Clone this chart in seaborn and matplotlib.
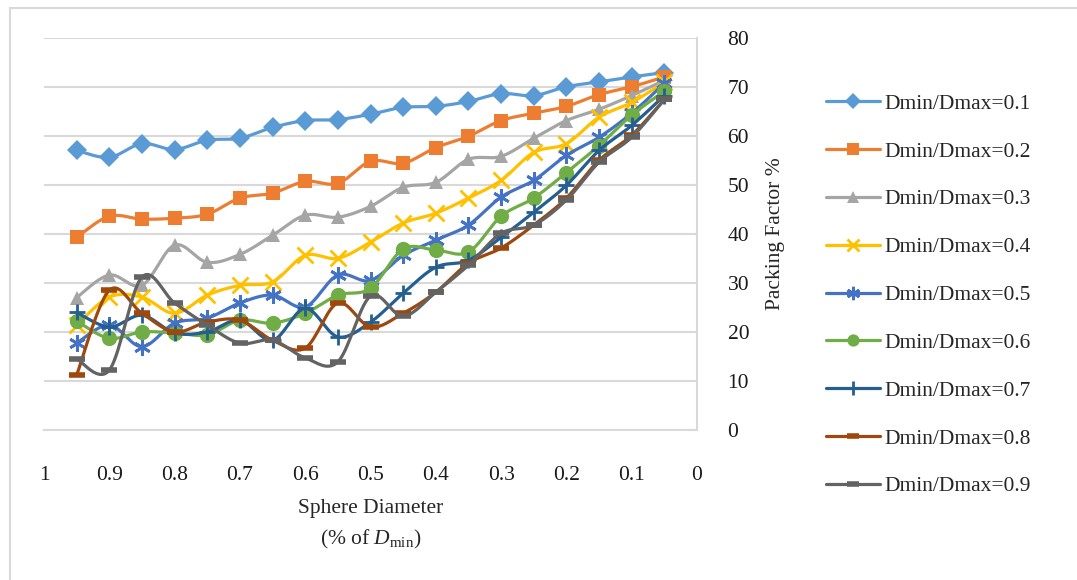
import numpy as np
import pandas as pd
import seaborn as sns
import matplotlib.pyplot as plt
from matplotlib.lines import Line2D
from matplotlib.patches import Rectangle

# średnica kuli (oś x, odwrócona)
srednica = [0.95, 0.9, 0.85, 0.8, 0.75, 0.7, 0.65, 0.6, 0.55, 0.5,
            0.45, 0.4, 0.35, 0.3, 0.25, 0.2, 0.15, 0.1, 0.05]

pf_01 = [57.0, 55.6, 58.4, 57.2, 59.1, 59.5, 61.7, 63.1, 63.3, 64.4,
         65.8, 66.0, 67.0, 68.6, 68.2, 70.0, 71.0, 72.0, 72.9]
pf_02 = [39.3, 43.6, 43.0, 43.2, 44.0, 47.3, 48.3, 50.7, 50.3, 54.8,
         54.4, 57.6, 59.9, 63.1, 64.6, 66.0, 68.4, 70.0, 72.0]
pf_03 = [27.0, 31.6, 29.5, 37.7, 34.2, 35.8, 39.7, 43.8, 43.4, 45.6,
         49.5, 50.5, 55.2, 55.8, 59.5, 63.1, 65.4, 68.2, 71.3]
pf_04 = [21.4, 27.1, 27.1, 23.8, 27.5, 29.5, 30.2, 35.6, 35.0, 38.3,
         42.2, 44.2, 47.3, 50.9, 56.6, 58.4, 63.8, 66.8, 70.9]
pf_05 = [17.7, 21.4, 17.0, 21.8, 22.8, 25.9, 27.5, 25.1, 31.6, 30.5,
         35.6, 38.7, 41.8, 47.5, 50.9, 56.0, 59.7, 64.6, 70.7]
pf_06 = [22.2, 18.7, 20.0, 19.8, 19.4, 22.4, 21.8, 23.8, 27.5, 28.9,
         36.9, 36.7, 36.3, 43.6, 47.3, 52.5, 58.0, 64.2, 69.1]
pf_07 = [24.0, 21.0, 23.4, 19.8, 20.0, 22.4, 18.3, 24.8, 19.0, 22.0,
         27.9, 33.2, 34.6, 39.3, 44.4, 49.9, 57.0, 62.1, 68.2]
pf_08 = [11.2, 28.5, 23.8, 20.0, 22.0, 22.4, 18.3, 16.7, 25.9, 21.0,
         23.8, 28.1, 34.0, 37.1, 41.8, 47.3, 55.0, 60.1, 67.4]
pf_09 = [14.5, 12.2, 31.2, 25.9, 21.4, 17.7, 18.3, 14.7, 13.9, 27.3,
         23.2, 28.1, 33.6, 40.1, 41.8, 46.9, 54.6, 59.7, 67.4]

serie = [pf_01, pf_02, pf_03, pf_04, pf_05, pf_06, pf_07, pf_08, pf_09]
etykiety = [f'Dmin/Dmax=0.{i}' for i in range(1, 10)]
kolory = ['#5B9BD5', '#ED7D31', '#A5A5A5', '#FFC000', '#4472C4',
          '#70AD47', '#255E91', '#9E480E', '#636363']
markery = ['D', 's', '^', 'x', (6, 2, 0), 'o', '+', '_', '_']
rozmiary = [10, 10, 10, 11, 12, 11, 12, 11, 11]


def wygladz(x, y, n=20):
    # krzywa gładka jak w Excelu (Bezier / Catmull-Rom)
    x = np.asarray(x, float)
    y = np.asarray(y, float)
    P = np.column_stack([x, y])
    P = np.vstack([P[0], P, P[-1]])
    out = []
    t = np.linspace(0, 1, n)[:, None]
    for i in range(1, len(P) - 2):
        p0, p1, p2, p3 = P[i - 1], P[i], P[i + 1], P[i + 2]
        c1 = p1 + (p2 - p0) / 6
        c2 = p2 - (p3 - p1) / 6
        seg = ((1 - t) ** 3) * p1 + 3 * ((1 - t) ** 2) * t * c1 + 3 * (1 - t) * t ** 2 * c2 + t ** 3 * p2
        out.append(seg if i == 1 else seg[1:])
    out = np.vstack(out)
    return out[:, 0], out[:, 1]


sns.set_style('white')
plt.rcParams['font.family'] = ['Liberation Serif', 'DejaVu Serif']
plt.rcParams['mathtext.fontset'] = 'custom'
plt.rcParams['mathtext.rm'] = 'Liberation Serif'
plt.rcParams['mathtext.it'] = 'Liberation Serif:italic'

fig = plt.figure(figsize=(10.77, 5.8), dpi=100)
ax = fig.add_axes([44 / 1077, 1 - 430 / 580, (697 - 44) / 1077, (430 - 37.7) / 580])

uchwyty = []
for y, lab, kol, mk, ms in zip(serie, etykiety, kolory, markery, rozmiary):
    xs, ys = wygladz(srednica, y)
    dense = pd.DataFrame({'x': xs, 'y': ys})
    sns.lineplot(data=dense, x='x', y='y', color=kol, linewidth=2.3, sort=False,
                 estimator=None, ax=ax)
    mew = 2.0 if mk in ['x', '+', '_'] or isinstance(mk, tuple) else 0
    if mk == '_':
        mew = 4.0
    ax.plot(srednica, y, linestyle='none', marker=mk, markersize=ms, color=kol,
            markeredgewidth=mew)
    uchwyty.append(Line2D([], [], color=kol, lw=2.3, marker=mk,
                          markersize=ms * 0.8, markeredgewidth=mew))

ax.set_xlim(1, 0)
ax.set_ylim(0, 80)
ax.set_xticks(np.arange(0, 1.01, 0.1))
ax.set_xticklabels(['0', '0.1', '0.2', '0.3', '0.4', '0.5', '0.6', '0.7', '0.8', '0.9', '1'])
ax.set_yticks(range(0, 81, 10))
ax.yaxis.tick_right()
ax.yaxis.set_label_position('right')
ax.tick_params(axis='both', length=0, labelsize=15.5, colors='#1a1a1a')
ax.tick_params(axis='y', pad=22)
ax.tick_params(axis='x', pad=26)
ax.grid(axis='y', color='#D9D9D9', linewidth=1.5)
ax.grid(axis='x', visible=False)
ax.set_axisbelow(True)
for s in ['left', 'top']:
    ax.spines[s].set_visible(False)
for s in ['bottom', 'right']:
    ax.spines[s].set_color('#D9D9D9')
    ax.spines[s].set_linewidth(1.5)

ax.set_ylabel('Packing Factor %', fontsize=15.5, labelpad=12)
ax.set_xlabel('Sphere Diameter\n(% of $D_{\\mathrm{min}}$)', fontsize=15.5, labelpad=10,
              linespacing=1.6)

fig.legend(uchwyty, etykiety, loc='center left', bbox_to_anchor=(826 / 1077, 1 - 295 / 580),
           frameon=False, fontsize=15.5, handlelength=2.5, handletextpad=0.2,
           labelspacing=1.29, borderpad=0, borderaxespad=0)

fig.patches.append(Rectangle((10 / 1077, -0.1), 1.1, 1 - 8 / 580 + 0.1, transform=fig.transFigure,
                             fill=False, edgecolor='#D9D9D9', linewidth=1.5))

fig.savefig('out.png', dpi=100)
